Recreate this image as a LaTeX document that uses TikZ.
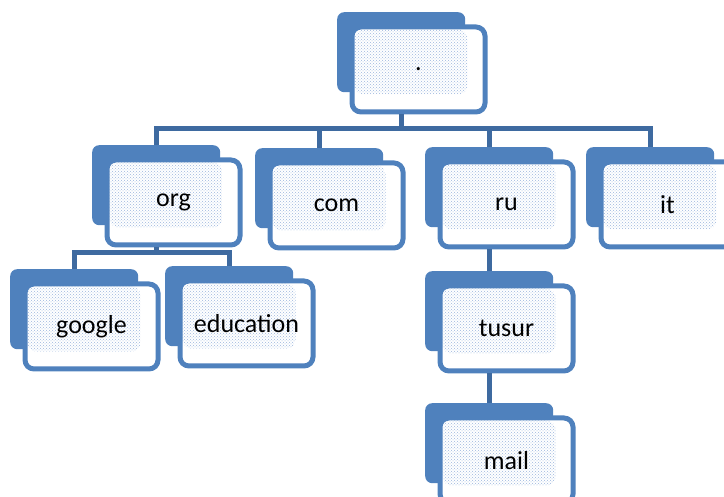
\documentclass[tikz,border=0pt]{standalone}
\usepackage{fontspec}
\setmainfont{Carlito}
\usetikzlibrary{patterns}
\definecolor{boxblue}{RGB}{79,129,189}
\definecolor{linkblue}{RGB}{62,106,160}
\definecolor{dotblue}{RGB}{155,183,222}
\begin{document}
\begin{tikzpicture}[x=1pt,y=-1pt,
    backbox/.style={fill=boxblue, rounded corners=7pt, minimum width=128pt, minimum height=80pt, inner sep=0pt, anchor=north west},
    frontbox/.style={draw=boxblue, line width=5pt, fill=white, rounded corners=9pt, minimum width=133pt, minimum height=85pt, inner sep=0pt, anchor=north west,
        font=\fontsize{26}{30}\selectfont,
        path picture={\fill[pattern=crosshatch dots, pattern color=dotblue] ([shift={(2.5,2.5)}]path picture bounding box.north west) rectangle ([shift={(-17.5,-17.5)}]path picture bounding box.south east);}},
    link/.style={draw=linkblue, line width=5pt}]
     \useasboundingbox (0,0) rectangle (724,497);
     \coordinate (bus1) at (0,129);
     \coordinate (bus2) at (0,253);
     % root
     \node[backbox] (rootb) at (337,12) {};
     \node[frontbox] (root) at ([shift={(12.5,12.5)}]rootb.north west) {.};
     % first level
     \node[backbox] (orgb) at (92,145) {};
     \node[frontbox] (org) at ([shift={(12.5,12.5)}]orgb.north west) {org};
     \node[backbox] (comb) at (255,148) {};
     \node[frontbox] (com) at ([shift={(12.5,12.5)}]comb.north west) {com};
     \node[backbox] (rub) at (425,147) {};
     \node[frontbox] (ru) at ([shift={(12.5,12.5)}]rub.north west) {ru};
     \node[backbox] (itb) at (586,147) {};
     \node[frontbox] (it) at ([shift={(12.5,12.5)}]itb.north west) {it};
     % below org
     \node[backbox] (googleb) at (10,269) {};
     \node[frontbox] (google) at ([shift={(12.5,12.5)}]googleb.north west) {google};
     \node[backbox] (educationb) at (165,266) {};
     \node[frontbox] (education) at ([shift={(12.5,12.5)}]educationb.north west) {education};
     % below ru
     \node[backbox] (tusurb) at (425,271) {};
     \node[frontbox] (tusur) at ([shift={(12.5,12.5)}]tusurb.north west) {tusur};
     \node[backbox] (mailb) at (425,403) {};
     \node[frontbox] (mail) at ([shift={(12.5,12.5)}]mailb.north west) {mail};
     % connectors
     \draw[link] (rootb |- root.south) -- (rootb |- bus1) -| (orgb.north);
     \draw[link] (rootb |- root.south) -- (rootb |- bus1) -| (comb.north);
     \draw[link] (rootb |- root.south) -- (rootb |- bus1) -| (rub.north);
     \draw[link] (rootb |- root.south) -- (rootb |- bus1) -| (itb.north);
     \draw[link] (orgb |- org.south) -- (orgb |- bus2) -| (googleb.north);
     \draw[link] (orgb |- org.south) -- (orgb |- bus2) -| (educationb.north);
     \draw[link] (rub |- ru.south) -- (tusurb.north);
     \draw[link] (tusurb |- tusur.south) -- (mailb.north);
\end{tikzpicture}
\end{document}
